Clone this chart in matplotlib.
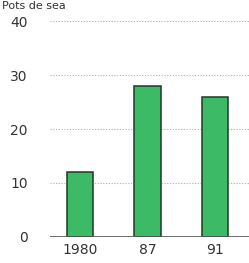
import matplotlib
matplotlib.use("Agg")
import matplotlib.pyplot as plt

years = ["1980", "87", "91"]
values = [12, 28, 26]
yticks = [0, 10, 20, 30, 40]

fig = plt.figure(figsize=(2.49, 2.63), dpi=100, facecolor="w")
ax = fig.add_axes([0.2, 0.099, 0.8, 0.821])

# dotted gridlines behind the bars
for t in yticks[1:]:
    ax.axhline(t, color="#9fb3c0", lw=0.8, ls=(0, (1, 1.5)), zorder=0)

ax.bar(range(len(years)), values, width=0.385, color="#3dba66",
       edgecolor="#1d3a25", linewidth=1.1, zorder=2)
ax.axhline(0, color="#555555", lw=1.2, zorder=3)

ax.set_xlim(-0.444, 2.5)
ax.set_ylim(0, 40)
ax.set_xticks(range(len(years)))
ax.set_xticklabels(years)
ax.set_yticks(yticks)
ax.tick_params(length=0, labelsize=10, labelcolor="#333333")
ax.tick_params(axis="y", pad=16)
ax.tick_params(axis="x", pad=4)
for s in ax.spines.values():
    s.set_visible(False)

# title at the top edge
fig.text(0.01, 0.998, "Pots de sea", fontsize=8, color="#333333",
         ha="left", va="top")

fig.savefig("out.png", dpi=100)
